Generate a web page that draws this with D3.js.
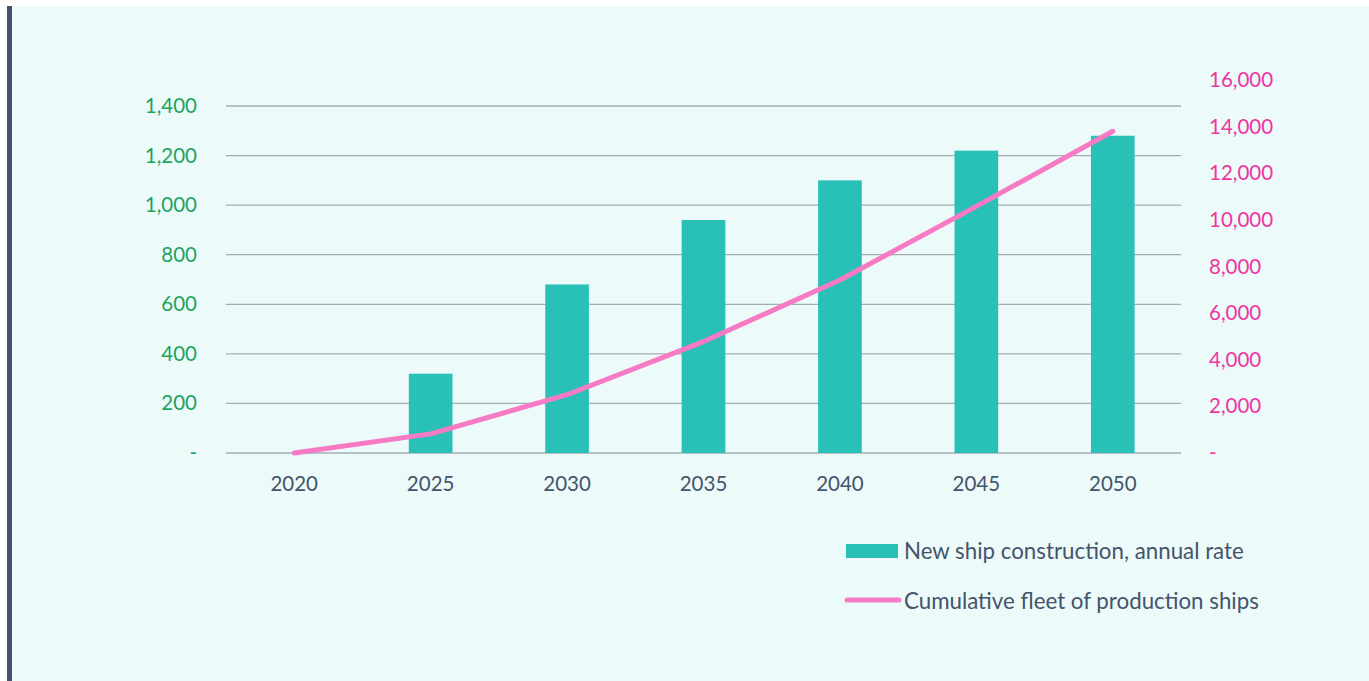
<!DOCTYPE html>
<html><head><meta charset="utf-8">
<script src="https://cdn.jsdelivr.net/npm/d3@7"></script>
<style>
html,body{margin:0;padding:0;background:#ffffff;}
svg{display:block;font-family:Lato, "Open Sans", sans-serif;}
</style></head>
<body>
<svg id="chart" width="1369" height="681"></svg>
<script>
const years = ["2020","2025","2030","2035","2040","2045","2050"];
const newShips = [0, 320, 680, 940, 1100, 1220, 1280];
const cumulativeFleet = [0, 820, 2500, 4780, 7420, 10580, 13800];
const leftTicks = [0, 200, 400, 600, 800, 1000, 1200, 1400];
const rightTicks = [0, 2000, 4000, 6000, 8000, 10000, 12000, 14000, 16000];
const legendLabels = ["New ship construction, annual rate", "Cumulative fleet of production ships"];

const svg = d3.select("#chart");
svg.append("rect").attr("x",7).attr("y",6).attr("width",1362).attr("height",675).attr("fill","#edfafa");
svg.append("rect").attr("x",7).attr("y",6).attr("width",5).attr("height",675).attr("fill","#44546a");

const x0 = 226, x1 = 1181, yBase = 453;
const x = d3.scaleBand().domain(years).range([x0,x1]).paddingInner(0.68).paddingOuter(0.34);
const yL = d3.scaleLinear().domain([0,1400]).range([yBase,106]);
const yR = d3.scaleLinear().domain([0,16000]).range([yBase,80]);
const fmt = v => v === 0 ? "-" : d3.format(",")(v);

// gridlines
svg.append("g").selectAll("line").data(leftTicks).join("line")
  .attr("x1",x0).attr("x2",x1).attr("y1",d=>yL(d)).attr("y2",d=>yL(d))
  .attr("stroke","#a3aeb4").attr("stroke-width",1.3);

// bars
svg.append("g").selectAll("rect").data(years).join("rect")
  .attr("x",d=>x(d)).attr("width",x.bandwidth())
  .attr("y",(d,i)=>yL(newShips[i])).attr("height",(d,i)=>yBase-yL(newShips[i]))
  .attr("fill","#29c0b8");

// line
const line = d3.line().x((d,i)=>x(years[i])+x.bandwidth()/2).y(d=>yR(d));
svg.append("path").datum(cumulativeFleet).attr("d",line)
  .attr("fill","none").attr("stroke","#f77ac4").attr("stroke-width",5)
  .attr("stroke-linecap","round").attr("stroke-linejoin","round");

// left axis
const axL = d3.axisLeft(yL).tickValues(leftTicks).tickFormat(fmt).tickSize(0).tickPadding(0);
const gL = svg.append("g").attr("transform","translate(197,0)").call(axL);
gL.select(".domain").remove();
gL.selectAll("text").attr("fill","#1fa35f").style("font-size","20.5px").style("font-family","Lato");

// right axis
const axR = d3.axisRight(yR).tickValues(rightTicks).tickFormat(fmt).tickSize(0).tickPadding(0);
const gR = svg.append("g").attr("transform","translate(1209,0)").call(axR);
gR.select(".domain").remove();
gR.selectAll("text").attr("fill","#f0359f").style("font-size","20.5px").style("font-family","Lato");

// x axis
const axX = d3.axisBottom(x).tickSize(0).tickPadding(0);
const gX = svg.append("g").attr("transform","translate(0,476)").call(axX);
gX.select(".domain").remove();
gX.selectAll("text").attr("fill","#44546a").style("font-size","20.5px").style("font-family","Lato");

// legend
const lg = svg.append("g");
lg.append("rect").attr("x",846).attr("y",544).attr("width",52).attr("height",14).attr("fill","#29c0b8");
lg.append("line").attr("x1",847).attr("x2",899).attr("y1",600).attr("y2",600)
  .attr("stroke","#f77ac4").attr("stroke-width",5).attr("stroke-linecap","round");
const lt = lg.selectAll("text").data(legendLabels).join("text")
  .attr("x",904).attr("y",(d,i)=>551+i*50).attr("dy","0.35em")
  .attr("fill","#44546a").style("font-size","20px").style("font-family","Lato")
  .text(d=>d);
const w0 = lt.nodes()[0].getComputedTextLength();
if (w0 > 0) lt.style("font-size", (20 * 340 / w0).toFixed(2) + "px");
</script>
</body></html>
